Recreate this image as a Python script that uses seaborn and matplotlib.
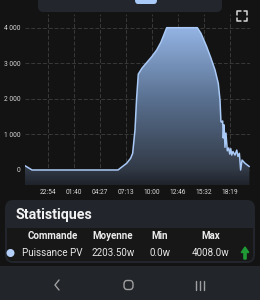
import numpy as np
import matplotlib
matplotlib.use("Agg")
import matplotlib.pyplot as plt
import seaborn as sns
from matplotlib.colors import LinearSegmentedColormap
from matplotlib.patches import FancyBboxPatch, PathPatch, Rectangle, FancyArrow
from matplotlib.lines import Line2D

# ---------------- data ----------------
# minutes since 20:27 (start of the 24 h window) and PV power in W
minutes = [0, 45, 595, 651, 676, 689, 704, 714, 725, 749, 774, 811, 843, 870, 907,
           1103, 1126, 1163, 1190, 1216, 1237, 1248, 1254, 1258, 1265, 1269, 1274,
           1280, 1286, 1295, 1304, 1310, 1317, 1323, 1331, 1344, 1355, 1363, 1372,
           1380, 1389, 1408, 1436]
watts = [120, 0, 0, 190, 330, 470, 1130, 2000, 2700, 2870, 3000, 3190, 3380, 3600, 4008,
         4008, 3850, 3470, 3150, 2820, 2440, 1970, 1360, 1350, 1380, 900, 1270,
         640, 1040, 540, 620, 450, 600, 420, 520, 420, 560, 380, 470,
         0, 280, 190, 95]
xtick_pos = [147, 313, 480, 646, 813, 979, 1145, 1312]
xtick_labels = ["22:54", "01:40", "04:27", "07:13", "10:00", "12:46", "15:32", "18:19"]
ytick_pos = [0, 1000, 2000, 3000, 4000]
ytick_labels = ["0", "1 000", "2 000", "3 000", "4 000"]
stat_headers = ["Commande", "Moyenne", "Min", "Max"]
stat_values = ["Puissance PV", "2203.50w", "0.0w", "4008.0w"]
title = "Statistiques"

# ---------------- style ----------------
sns.set_style("dark")
plt.rcParams["font.family"] = ["Roboto", "DejaVu Sans"]

W, H = 260, 300
BG = "#131313"
fig = plt.figure(figsize=(W / 100, H / 100), dpi=100, facecolor=BG)


def fx(x):
    return x / W


def fy(y):
    return 1 - y / H


# top card with blue pill
fig.patches.append(FancyBboxPatch((fx(38), fy(12)), fx(222) - fx(38), fy(0) - fy(12) + 0.02,
                                  boxstyle="round,pad=0,rounding_size=0.02",
                                  transform=fig.transFigure, facecolor="#23272d",
                                  edgecolor="none", zorder=0))
fig.patches.append(FancyBboxPatch((fx(135), fy(4)), fx(157) - fx(135), fy(0) - fy(4) + 0.02,
                                  boxstyle="round,pad=0,rounding_size=0.012",
                                  transform=fig.transFigure, facecolor="#a9c9f6",
                                  edgecolor="none", zorder=1))

# ---------------- chart ----------------
x0, x1, ytop, ybot = 25, 250, 14, 185
ax = fig.add_axes([fx(x0), fy(ybot), fx(x1) - fx(x0), fy(ytop) - fy(ybot)])
ax.set_facecolor(BG)
ymin, ymax = -423, 4394
ax.set_xlim(0, 1440)
ax.set_ylim(ymin, ymax)

# gradient fill under the curve
poly = ax.fill_between(minutes, watts, ymin, color="none", lw=0)
path = poly.get_paths()[0]
patch = PathPatch(path, transform=ax.transData, facecolor="none", edgecolor="none")
ax.add_patch(patch)
cmap = LinearSegmentedColormap.from_list(
    "g", [(0, "#1f232a"), (0.1, "#323a47"), (0.55, "#5a7191"), (1, "#94b4e4")])
grad = np.linspace(0, 1, 256).reshape(-1, 1)
im = ax.imshow(grad, cmap=cmap, origin="lower", aspect="auto",
               extent=[0, 1440, ymin, 4008], zorder=2)
im.set_clip_path(patch)

sns.lineplot(x=minutes, y=watts, ax=ax, color="#a9c9f6", lw=1.1, zorder=3)

ax.set_xticks(xtick_pos)
ax.set_xticklabels(xtick_labels)
ax.set_yticks(ytick_pos)
ax.set_yticklabels(ytick_labels)
ax.tick_params(axis="both", length=0, labelsize=4.8, colors="#d8d8d8")
ax.tick_params(axis="x", pad=3)
ax.tick_params(axis="y", pad=3.5)
ax.grid(True, color="#3a3a3a", lw=0.7, ls=(0, (4, 2)), zorder=1)
ax.set_axisbelow(True)
for s in ax.spines.values():
    s.set_visible(False)
ax.set_xlabel("")
ax.set_ylabel("")

# expand icon
ic = "#d8d8d8"
for (xa, ya, dx, dy) in [(237, 11, 1, 1), (247, 11, -1, 1), (237, 21, 1, -1), (247, 21, -1, -1)]:
    fig.lines.append(Line2D([fx(xa), fx(xa), fx(xa + 3.5 * dx)],
                            [fy(ya + 3.5 * dy), fy(ya), fy(ya)],
                            transform=fig.transFigure, color=ic, lw=1.1))

# ---------------- stats card ----------------
fig.patches.append(FancyBboxPatch((fx(5), fy(263)), fx(255) - fx(5), fy(200) - fy(263),
                                  boxstyle="round,pad=0,rounding_size=0.03",
                                  transform=fig.transFigure, facecolor="#22262c",
                                  edgecolor="none", zorder=0))
fig.patches.append(FancyBboxPatch((fx(7), fy(261)), fx(253) - fx(7), fy(228) - fy(261),
                                  boxstyle="round,pad=0,rounding_size=0.02",
                                  transform=fig.transFigure, facecolor="#171717",
                                  edgecolor="none", zorder=0))
fig.patches.append(Rectangle((fx(7), fy(240)), fx(253) - fx(7), fy(228) - fy(240),
                             transform=fig.transFigure, facecolor="#171717",
                             edgecolor="none", zorder=0))

fig.text(fx(15), fy(215), title, color="#f2f2f2", fontsize=10.3, fontweight="bold",
         va="center", ha="left")
cols = [53, 113, 160, 211]
for c, h in zip(cols, stat_headers):
    fig.text(fx(c), fy(236), h, color="#ececec", fontsize=7.0, fontweight="bold",
             ha="center", va="center")
fig.text(fx(22), fy(253), stat_values[0], color="#e6e6e6", fontsize=7.1, ha="left", va="center")
for c, v in zip(cols[1:], stat_values[1:]):
    fig.text(fx(c), fy(253), v, color="#e6e6e6", fontsize=7.1, ha="center", va="center")
fig.patches.append(matplotlib.patches.Ellipse((fx(10.5), fy(253)), fx(8), 8 / H,
                                              transform=fig.transFigure,
                                              facecolor="#b3cff8", edgecolor="none"))
# green up arrow (in inch coordinates of the figure)
fig.patches.append(FancyArrow(2.45, (H - 259) / 100, 0, 0.12, width=0.022,
                              head_width=0.075, head_length=0.055,
                              length_includes_head=True, color="#1f9a35",
                              transform=fig.dpi_scale_trans))

# ---------------- nav bar ----------------
fig.patches.append(Rectangle((0, 0), 1, fy(266), transform=fig.transFigure,
                             facecolor="#22252a", edgecolor="none", zorder=0))
nc = "#a0a0a0"
fig.lines.append(Line2D([fx(59), fx(55), fx(59)], [fy(280), fy(285), fy(290)],
                        transform=fig.transFigure, color=nc, lw=1.0))
fig.patches.append(FancyBboxPatch((fx(124), fy(289.5)), fx(9), 9 / H,
                                  boxstyle="round,pad=0,rounding_size=0.012",
                                  transform=fig.transFigure, facecolor="none",
                                  edgecolor=nc, lw=1.0))
for xx in (195.5, 199.5, 203.5):
    fig.lines.append(Line2D([fx(xx), fx(xx)], [fy(280.5), fy(289.5)],
                            transform=fig.transFigure, color=nc, lw=1.0))

fig.savefig("out.png", dpi=100, facecolor=BG)
